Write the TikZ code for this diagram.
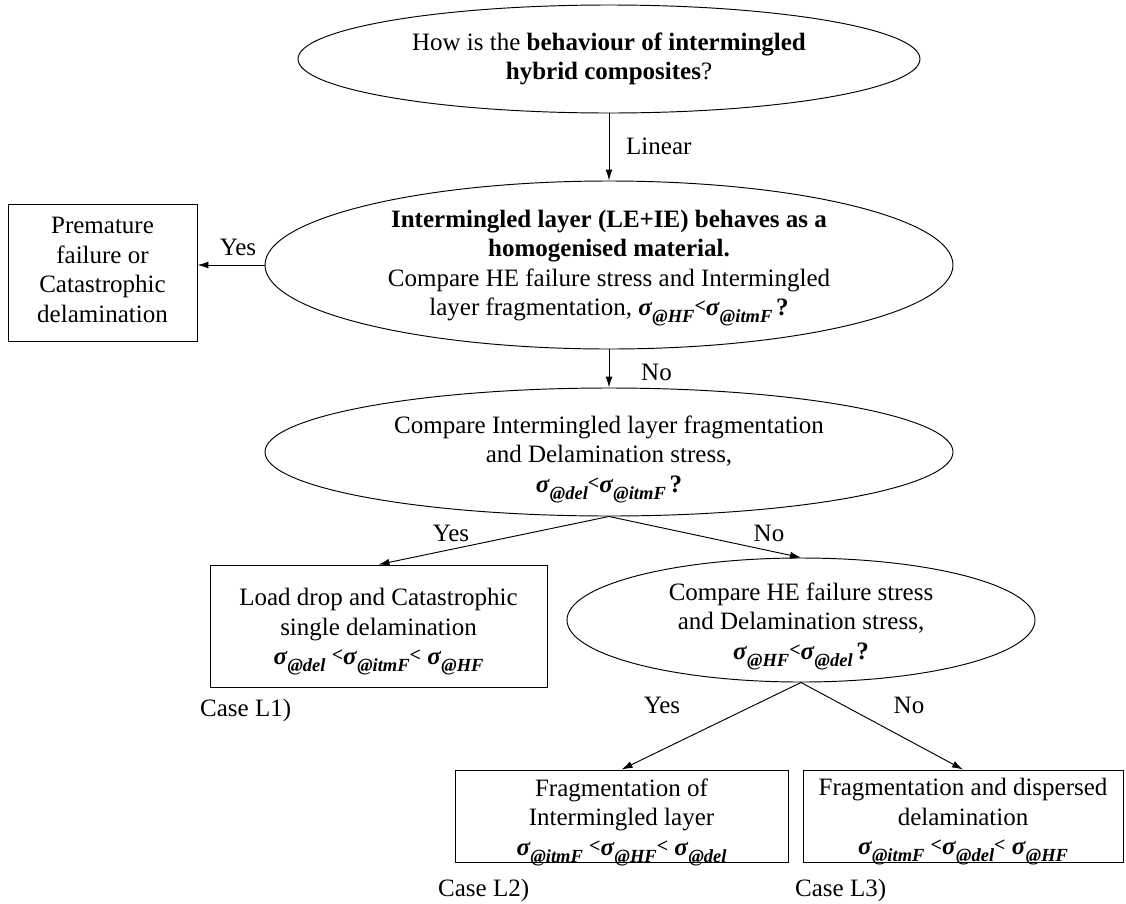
\documentclass[tikz,border=0pt]{standalone}
\usepackage{fontspec}
\setmainfont{Liberation Serif}
\usetikzlibrary{shapes.geometric,arrows.meta}
\newcommand{\sg}[1]{\textbf{\textit{σ}}\raisebox{-0.28em}{\fontsize{18.5}{18.5}\selectfont\bfseries\itshape @#1}}
\newcommand{\lsym}{\raisebox{0.12em}{\fontsize{20}{20}\selectfont\bfseries <}}
\tikzset{
  ell/.style={draw, ellipse, line width=0.95pt, inner sep=0pt},
  box/.style={draw, rectangle, line width=0.95pt, inner sep=0pt},
  txt/.style={align=center, inner sep=0pt, font=\fontsize{25}{29.5}\selectfont},
  lbl/.style={inner sep=0pt, font=\fontsize{25}{29.5}\selectfont},
  arr/.style={-{Latex[length=11pt,width=7pt]}, line width=0.95pt},
}
\begin{document}
\begin{tikzpicture}[x=1pt,y=-1pt]
\useasboundingbox (0,0) rectangle (1126,903);
% shapes
\node[ell, minimum width=622, minimum height=108] (q1) at (609,59) {};
\node[ell, minimum width=688, minimum height=168] (q2) at (609,265) {};
\node[ell, minimum width=688, minimum height=128] (q3) at (609,452) {};
\node[ell, minimum width=468, minimum height=124] (q4) at (801,620) {};
\node[box, minimum width=189, minimum height=137] (pm) at (102.5,272.5) {};
\node[box, minimum width=337, minimum height=122] (ld) at (378.5,626) {};
\node[box, minimum width=333, minimum height=92] (fi) at (621.5,816) {};
\node[box, minimum width=320, minimum height=92] (fd) at (963,816) {};
% texts
\node[txt] (t1) at (609,59) {How is the \textbf{behaviour of intermingled}\\\textbf{hybrid composites}?};
\node[txt] (t2) at (609,268) {\textbf{Intermingled layer (LE+IE) behaves as a}\\\textbf{homogenised material.}\\Compare HE failure stress and Intermingled\\layer fragmentation, \sg{HF}\lsym\sg{itmF}\hspace{0.15em}\textbf{?}};
\node[txt] (t3) at (609,459) {Compare Intermingled layer fragmentation\\and Delamination stress,\\\sg{del}\lsym\sg{itmF}\hspace{0.15em}\textbf{?}};
\node[txt] (t4) at (801,626) {Compare HE failure stress\\and Delamination stress,\\\sg{HF}\lsym\sg{del}\hspace{0.15em}\textbf{?}};
\node[txt] (t5) at (102.5,270) {Premature\\failure or\\Catastrophic\\delamination};
\node[txt] (t6) at (378.5,632) {Load drop and Catastrophic\\single delamination\\\sg{del} \lsym\sg{itmF}\lsym\ \sg{HF}};
\node[txt] (t7) at (621.5,822) {Fragmentation of\\Intermingled layer\\\sg{itmF} \lsym\sg{HF}\lsym\ \sg{del}};
\node[txt] (t8) at (963,822) {Fragmentation and dispersed\\delamination\\\sg{itmF} \lsym\sg{del}\lsym\ \sg{HF}};
% connectors
\draw[arr] (q1.south) -- (q2.north);
\draw[arr] (q2.west) -- (q2.west -| pm.east);
\draw[arr] (q2.south) -- (q3.north);
\draw[arr] (q3.south) -- (ld.north);
\draw[arr] (q3.south) -- (q4.north);
\draw[arr] (q4.south) -- (fi.north);
\draw[arr] (q4.south) -- (fd.north);
% labels
\node[lbl, anchor=west] (l1) at (626,146) {Linear};
\node[lbl] (l2) at (238,247) {Yes};
\node[lbl, anchor=west] (l3) at (641,372) {No};
\node[lbl] (l4) at (451,533) {Yes};
\node[lbl] (l5) at (769,533) {No};
\node[lbl] (l6) at (662,705) {Yes};
\node[lbl] (l7) at (909,705) {No};
\node[lbl, anchor=west] (c1) at (200,710) {Case L1)};
\node[lbl, anchor=west] (c2) at (438,890) {Case L2)};
\node[lbl, anchor=west] (c3) at (795,890) {Case L3)};
\end{tikzpicture}
\end{document}
